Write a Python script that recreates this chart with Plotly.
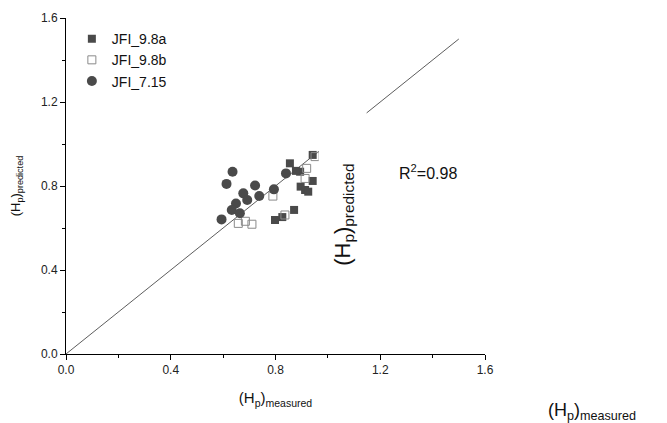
import plotly.graph_objects as go

# JFI_9.8a (filled squares)
a_measured = [0.855, 0.894, 0.878, 0.942, 0.942, 0.896, 0.913, 0.925, 0.871, 0.798, 0.826]
a_predicted = [0.908, 0.868, 0.872, 0.948, 0.824, 0.797, 0.781, 0.773, 0.686, 0.638, 0.652]

# JFI_9.8b (open squares)
b_measured = [0.658, 0.685, 0.71, 0.79, 0.836, 0.913, 0.919, 0.951]
b_predicted = [0.622, 0.632, 0.618, 0.752, 0.662, 0.836, 0.884, 0.94]

# JFI_7.15 (circles)
c_measured = [0.636, 0.613, 0.722, 0.677, 0.692, 0.738, 0.649, 0.633, 0.664, 0.594, 0.794, 0.840]
c_predicted = [0.868, 0.810, 0.802, 0.765, 0.733, 0.752, 0.717, 0.686, 0.670, 0.641, 0.784, 0.860]

line_x = [0, 1.5]
line_y = [0, 1.5]

fig = go.Figure()
fig.add_trace(go.Scatter(x=line_x, y=line_y, mode="lines", showlegend=False,
                         line=dict(color="#333333", width=0.8)))
fig.add_trace(go.Scatter(x=a_measured, y=a_predicted, mode="markers", name="JFI_9.8a",
                         marker=dict(symbol="square", size=8, color="#4a4a4a")))
fig.add_trace(go.Scatter(x=b_measured, y=b_predicted, mode="markers", name="JFI_9.8b",
                         marker=dict(symbol="square-open", size=8, color="#8a8a8a",
                                     line=dict(width=1))))
fig.add_trace(go.Scatter(x=c_measured, y=c_predicted, mode="markers", name="JFI_7.15",
                         marker=dict(symbol="circle", size=10, color="#4a4a4a")))

# white box hiding part of the diagonal
fig.add_shape(type="rect", x0=0.965, x1=1.148, y0=0.3, y1=1.21,
              fillcolor="white", line=dict(width=0), layer="above")

axis_common = dict(range=[0, 1.6], dtick=0.4, tickformat=".1f", showgrid=False, zeroline=False,
                   showline=True, linecolor="black", linewidth=1, ticks="outside", ticklen=5,
                   tickcolor="black", tickfont=dict(family="Liberation Sans", size=12, color="#222"),
                   minor=dict(dtick=0.2, ticks="outside", ticklen=3, tickcolor="black"),
                   automargin=False)

# page body has an 8px margin, so shift margins accordingly
fig.update_layout(
    width=667, height=423,
    margin=dict(l=58, r=190, t=10, b=77),
    paper_bgcolor="white", plot_bgcolor="white",
    font=dict(family="Liberation Sans", color="#111"),
    xaxis=dict(axis_common, title=dict(text="(H<sub>p</sub>)<sub>measured</sub>",
                                        font=dict(size=15), standoff=16)),
    yaxis=dict(axis_common, title=dict(text="(H<sub>p</sub>)<sub>predicted</sub>",
                                        font=dict(size=13), standoff=20)),
    legend=dict(x=0.014, y=0.985, xanchor="left", yanchor="top", bgcolor="rgba(0,0,0,0)",
                font=dict(size=14), tracegroupgap=0, itemwidth=30),
    annotations=[
        dict(text="R<sup>2</sup>=0.98", x=1.384, y=0.867, xref="x", yref="y", showarrow=False,
             xanchor="center", yanchor="middle", font=dict(size=16, color="#111")),
        dict(text="(H<sub>p</sub>)<sub>predicted</sub>", x=1.061, y=0.662, xref="x", yref="y",
             showarrow=False, textangle=-90, xanchor="center", yanchor="middle",
             font=dict(size=22, color="#111")),
        dict(text="(H<sub>p</sub>)<sub>measured</sub>", x=(592 - 66) / 419,
             y=(354 - 411) / 336, xref="paper", yref="paper", xanchor="center",
             yanchor="middle", showarrow=False, font=dict(size=18, color="#111")),
    ],
)

fig.write_html("out.html")
